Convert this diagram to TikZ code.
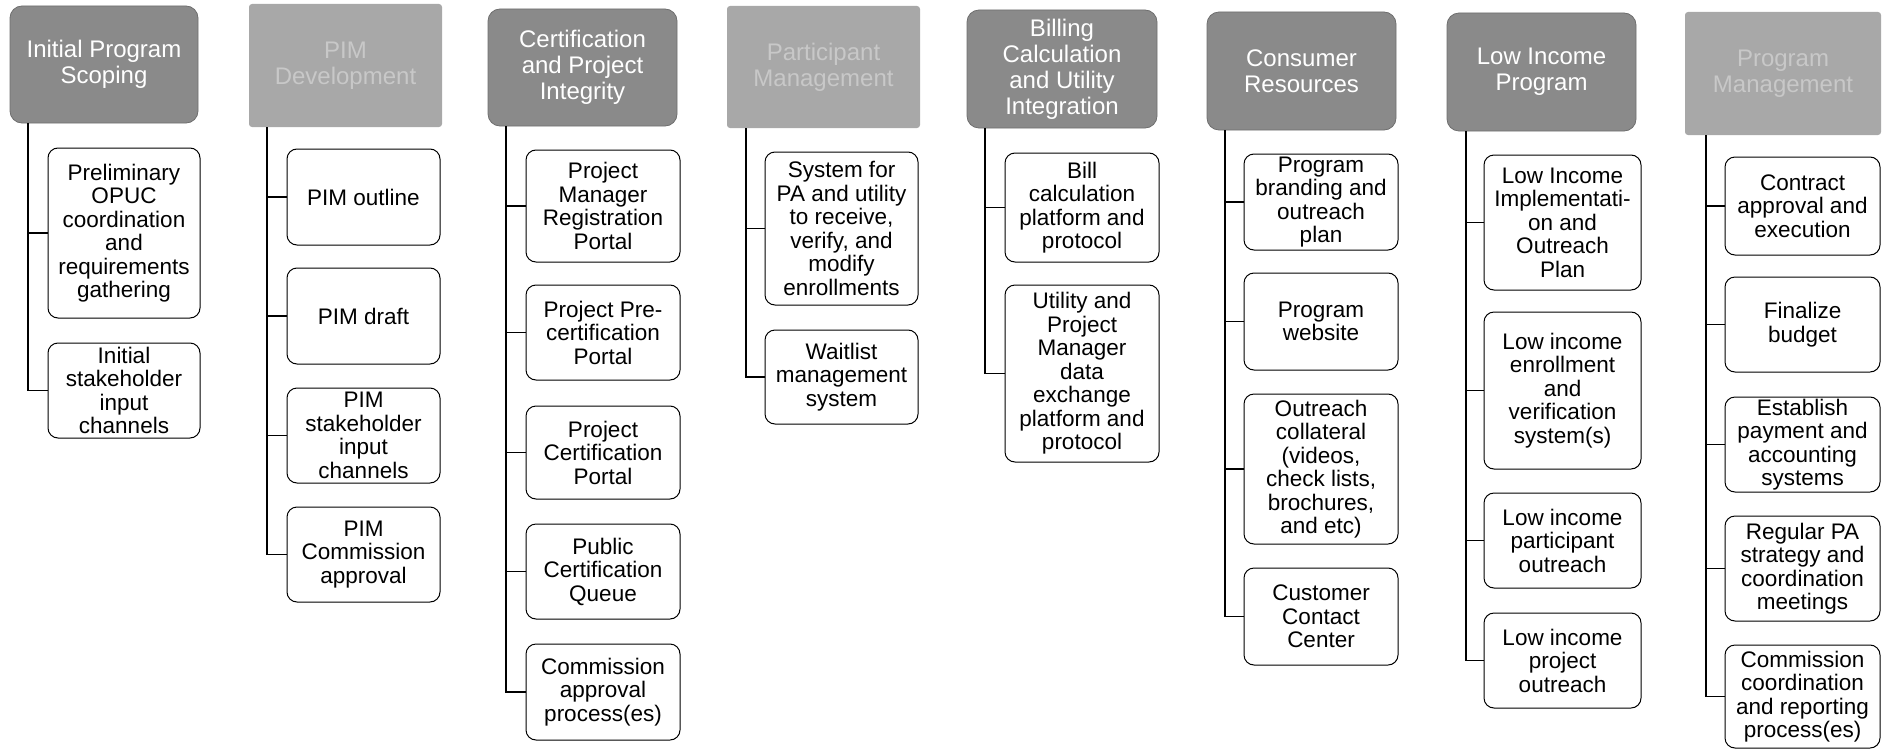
\documentclass[tikz,border=0pt]{standalone}
\usepackage{fontspec}
\setmainfont{Liberation Sans}
\definecolor{hdr}{RGB}{138,138,138}
\definecolor{hdrblur}{RGB}{168,168,168}
\definecolor{hdrblurtext}{RGB}{200,200,200}
\tikzset{
  box/.style={draw=black, line width=1pt, rounded corners=10pt, fill=white, align=center, inner sep=0pt,
    font=\fontsize{22.5}{23.5}\selectfont},
  hdrbox/.style={draw=hdr!80!black, line width=0.8pt, rounded corners=12pt, fill=hdr, text=white, align=center, inner sep=0pt,
    font=\fontsize{24}{26}\selectfont},
  hdrblurbox/.style={draw=none, rounded corners=3pt, fill=hdrblur, text=hdrblurtext, align=center, inner sep=0pt,
    font=\fontsize{24}{26}\selectfont},
  conn/.style={draw=black, line width=1.5pt}
}
\newcommand{\bx}[6]{\node[box, minimum width={#4-#2}, minimum height={#5-#3}] (#1) at ({(#2+#4)/2},{(#3+#5)/2}) {#6};}
\newcommand{\hd}[7]{\node[#7, minimum width={#4-#2}, minimum height={#5-#3}] (#1) at ({(#2+#4)/2},{(#3+#5)/2}) {#6};}
\begin{document}
\begin{tikzpicture}[x=1pt,y=-1pt]
\useasboundingbox (0,0) rectangle (1886,752);
% headers
\hd{h1}{10}{6}{198}{123}{Initial Program\\Scoping}{hdrbox}
\hd{h2}{249}{4}{442}{127}{PIM\\Development}{hdrblurbox}
\hd{h3}{488}{9}{677}{126}{Certification\\and Project\\Integrity}{hdrbox}
\hd{h4}{727}{6}{920}{128}{Participant\\Management}{hdrblurbox}
\hd{h5}{967}{10}{1157}{128}{Billing\\Calculation\\and Utility\\Integration}{hdrbox}
\hd{h6}{1207}{12}{1396}{130}{Consumer\\Resources}{hdrbox}
\hd{h7}{1447}{13}{1636}{131}{Low Income\\Program}{hdrbox}
\hd{h8}{1685}{12}{1881}{135}{Program\\Management}{hdrblurbox}
% trunk starts
\coordinate (t1) at (28,123);
\coordinate (t2) at (267,127);
\coordinate (t3) at (506,126);
\coordinate (t4) at (746,128);
\coordinate (t5) at (985,128);
\coordinate (t6) at (1225,130);
\coordinate (t7) at (1466,131);
\coordinate (t8) at (1706,135);
% column 1
\bx{b11}{48}{148}{200}{318}{Preliminary\\OPUC\\coordination\\and\\requirements\\gathering}
\bx{b12}{48}{343}{200}{438}{Initial\\stakeholder\\input\\channels}
% column 2
\bx{b21}{287}{149}{440}{245}{PIM outline}
\bx{b22}{287}{268}{440}{364}{PIM draft}
\bx{b23}{287}{388}{440}{483}{PIM\\stakeholder\\input\\channels}
\bx{b24}{287}{507}{440}{602}{PIM\\Commission\\approval}
% column 3
\bx{b31}{526}{150}{680}{262}{Project\\Manager\\Registration\\Portal}
\bx{b32}{526}{285}{680}{380}{Project Pre-\\certification\\Portal}
\bx{b33}{526}{406}{680}{499}{Project\\Certification\\Portal}
\bx{b34}{526}{524}{680}{619}{Public\\Certification\\Queue}
\bx{b35}{526}{644}{680}{740}{Commission\\approval\\process(es)}
% column 4
\bx{b41}{765}{152}{918}{305}{System for\\PA and utility\\to receive,\\verify, and\\modify\\enrollments}
\bx{b42}{765}{330}{918}{424}{Waitlist\\management\\system}
% column 5
\bx{b51}{1005}{153}{1159}{262}{Bill\\calculation\\platform and\\protocol}
\bx{b52}{1005}{285}{1159}{462}{Utility and\\Project\\Manager\\data\\exchange\\platform and\\protocol}
% column 6
\bx{b61}{1244}{154}{1398}{250}{Program\\branding and\\outreach\\plan}
\bx{b62}{1244}{273}{1398}{370}{Program\\website}
\bx{b63}{1244}{394}{1398}{544}{Outreach\\collateral\\(videos,\\check lists,\\brochures,\\and etc)}
\bx{b64}{1244}{568}{1398}{665}{Customer\\Contact\\Center}
% column 7
\bx{b71}{1484}{155}{1641}{290}{Low Income\\Implementati-\\on and\\Outreach\\Plan}
\bx{b72}{1484}{312}{1641}{469}{Low income\\enrollment\\and\\verification\\system(s)}
\bx{b73}{1484}{493}{1641}{588}{Low income\\participant\\outreach}
\bx{b74}{1484}{613}{1641}{708}{Low income\\project\\outreach}
% column 8
\bx{b81}{1725}{157}{1880}{255}{Contract\\approval and\\execution}
\bx{b82}{1725}{277}{1880}{372}{Finalize\\budget}
\bx{b83}{1725}{397}{1880}{492}{Establish\\payment and\\accounting\\systems}
\bx{b84}{1725}{516}{1880}{621}{Regular PA\\strategy and\\coordination\\meetings}
\bx{b85}{1725}{645}{1880}{748}{Commission\\coordination\\and reporting\\process(es)}
% connectors
\foreach \b in {b11,b12} \draw[conn] (t1) |- (\b.west);
\foreach \b in {b21,b22,b23,b24} \draw[conn] (t2) |- (\b.west);
\foreach \b in {b31,b32,b33,b34,b35} \draw[conn] (t3) |- (\b.west);
\foreach \b in {b41,b42} \draw[conn] (t4) |- (\b.west);
\foreach \b in {b51,b52} \draw[conn] (t5) |- (\b.west);
\foreach \b in {b61,b62,b63,b64} \draw[conn] (t6) |- (\b.west);
\foreach \b in {b71,b72,b73,b74} \draw[conn] (t7) |- (\b.west);
\foreach \b in {b81,b82,b83,b84,b85} \draw[conn] (t8) |- (\b.west);
\end{tikzpicture}
\end{document}
